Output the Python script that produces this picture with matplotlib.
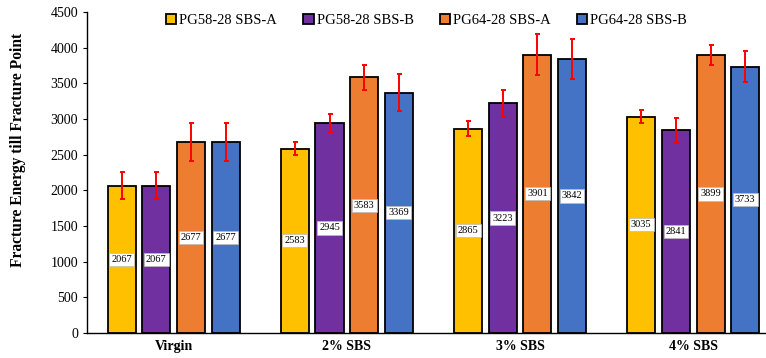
import numpy as np
import matplotlib.pyplot as plt

plt.rcParams['font.family'] = ['Liberation Serif', 'DejaVu Serif']

groups = ['Virgin', '2% SBS', '3% SBS', '4% SBS']
series = ['PG58-28 SBS-A', 'PG58-28 SBS-B', 'PG64-28 SBS-A', 'PG64-28 SBS-B']
values = [
    [2067, 2583, 2865, 3035],
    [2067, 2945, 3223, 2841],
    [2677, 3583, 3901, 3899],
    [2677, 3369, 3842, 3733],
]
errors = [
    [190, 90, 105, 90],
    [190, 122, 190, 180],
    [265, 176, 290, 145],
    [265, 260, 285, 220],
]
colors = ['#FFC000', '#7030A0', '#ED7D31', '#4472C4']

fig = plt.figure(figsize=(7.66, 3.58), dpi=100)
ax = fig.add_axes([0.1136, 0.0698, 0.8864, 0.8967])

x = np.arange(len(groups))
pitch = 0.2
width = 0.162
for i, (name, vals, errs, c) in enumerate(zip(series, values, errors, colors)):
    pos = x + (i - 1.5) * pitch
    ax.bar(pos, vals, width, color=c, edgecolor='black', linewidth=1.3,
           label=name, zorder=2)
    ax.errorbar(pos, vals, yerr=errs, fmt='none', ecolor='#FF0000',
                elinewidth=1.4, capsize=1.8, capthick=1.4, zorder=3)
    for p, v in zip(pos, vals):
        ax.text(p, v / 2, str(v), ha='center', va='center', fontsize=7.5,
                zorder=4,
                bbox=dict(boxstyle='square,pad=0.2', facecolor='white',
                          edgecolor='#BBBBBB', linewidth=0.5))

ax.set_xlim(-0.5, 3.42)
ax.set_ylim(0, 4500)
ax.set_yticks(np.arange(0, 4501, 500))
ax.set_xticks(x)
ax.set_xticklabels(groups, fontweight='bold', fontsize=10)
ax.tick_params(axis='x', length=0, pad=5)
ax.tick_params(axis='y', labelsize=10, length=3, direction='out')
for s in ['top', 'right']:
    ax.spines[s].set_visible(False)
for s in ['left', 'bottom']:
    ax.spines[s].set_linewidth(1.0)
ax.set_ylabel('Fracture Energy till Fracture Point', fontweight='bold',
              fontsize=11.2)
ax.yaxis.set_label_coords(-0.09, 0.57)

ax.legend(loc='upper center', bbox_to_anchor=(0.5, 1.035), ncol=4,
          frameon=False, fontsize=10.5, handlelength=0.7, handleheight=0.7,
          handletextpad=0.2, columnspacing=1.8)

fig.savefig('out.png', dpi=100)
